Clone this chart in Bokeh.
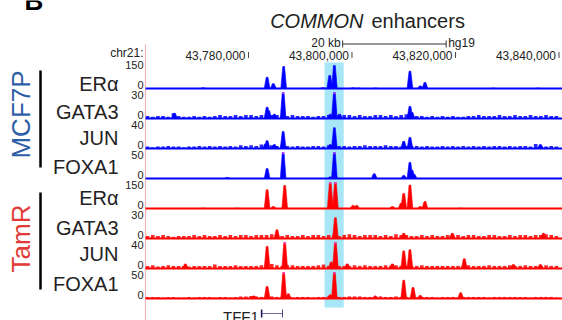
from math import pi
from bokeh.plotting import figure
from bokeh.models import Range1d
from bokeh.core.properties import value
from bokeh.embed import file_html
from bokeh.resources import INLINE

# ---------------- data (chr21, hg19, positions in kb) ----------------
region_kb = [43760.1, 43840.7]
view_kb = [43732.08, 43840.68]
tick_kb = [43780, 43800, 43820, 43840]
tick_labels = ["43,780,000", "43,800,000", "43,820,000", "43,840,000"]
highlight_kb = [43794.7, 43798.4]
scalebar_kb = [43798.2, 43818.2]
scalebar_label = "20 kb"
assembly = "hg19"
chrom_label = "chr21:"
gene_name = "TFF1"
gene_kb = [43782.391, 43786.644]
title_italic = "COMMON"
title_rest = "enhancers"

groups = ["MCF7P", "TamR"]
track_names = ["ERα", "GATA3", "JUN", "FOXA1", "ERα", "GATA3", "JUN", "FOXA1"]
track_max = [150, 30, 40, 50, 150, 30, 40, 50]

era_mcf7_pos = [43771.25, 43783.6, 43784.8, 43786.8, 43794.4, 43795.7, 43796.6, 43800.2, 43801.3, 43804.5, 43811.2, 43813.2, 43814.1, 43827.3, 43836.0]
era_mcf7_val = [4, 65, 28, 127, 5, 75, 133, 4, 3, 3, 100, 15, 35, 3, 3]
gata3_mcf7_pos = [43765.7, 43783.6, 43783.9, 43785.0, 43786.7, 43795.8, 43796.6, 43797.6, 43811.2, 43811.6]
gata3_mcf7_val = [6, 13, 9, 5, 32, 5, 32, 5, 14, 7]
jun_mcf7_pos = [43783.3, 43783.6, 43785.0, 43786.7, 43795.8, 43796.6, 43810.0, 43811.2, 43836.4]
jun_mcf7_val = [7, 12, 6, 26, 6, 32, 11, 17, 6]
foxa1_mcf7_pos = [43775.9, 43783.6, 43786.7, 43795.8, 43796.6, 43804.3, 43810.0, 43811.2, 43811.6, 43812.0]
foxa1_mcf7_val = [2, 19, 55, 3, 55, 9, 6, 31, 16, 8]
era_tamr_pos = [43771.25, 43777.8, 43783.6, 43784.8, 43787.0, 43795.8, 43796.8, 43800.2, 43800.9, 43807.8, 43809.5, 43810.0, 43811.2, 43813.2, 43814.1, 43821.0]
era_tamr_val = [3, 3, 108, 12, 133, 160, 160, 18, 18, 12, 30, 87, 135, 12, 40, 3]
gata3_tamr_pos = [43785.5, 43796.8, 43810.0, 43819.4, 43837.0]
gata3_tamr_val = [10, 24, 6, 6, 6]
jun_tamr_pos = [43767.8, 43783.6, 43787.0, 43796.0, 43796.8, 43799.1, 43807.8, 43810.0, 43811.2, 43821.7, 43831.2, 43836.4]
jun_tamr_val = [7, 34, 45, 10, 45, 7, 7, 27, 29, 15, 6, 6]
foxa1_tamr_pos = [43781.0, 43783.6, 43786.8, 43787.7, 43795.8, 43796.6, 43804.5, 43810.0, 43811.8, 43813.2, 43821.0]
foxa1_tamr_val = [5, 23, 55, 9, 7, 55, 5, 35, 21, 6, 11]

# background signal in 1 kb bins starting at 43760 kb
bg_start_kb = 43760.5
gata3_mcf7_bg = [3,2,3,3,2,6,3,2,2,3, 2,3,2,3,4,3,3,4,3,4, 4,3,4,5,4,4,3,3,4,3, 3,3,2,3,3,4,3,4,4,4,
                 3,4,3,3,4,4,3,4,3,4, 5,4,3,3,2,3,2,3,2,3, 2,2,3,3,4,3,3,3,4,3, 3,4,3,3,4,3,3,4,3,3]
jun_mcf7_bg = [3,2,3,3,4,3,3,2,3,3, 4,3,4,3,4,3,4,3,5,4, 5,4,6,7,5,4,5,4,3,4, 3,3,4,4,3,5,4,4,4,3,
               4,4,5,4,4,4,5,4,4,3, 4,4,4,3,4,3,3,4,3,4, 3,4,3,4,3,4,3,4,4,3, 4,3,4,4,3,7,4,3,4,3]
gata3_tamr_bg = [3,4,3,4,3,2,3,3,3,4, 3,4,3,3,4,3,4,3,4,4, 3,4,4,4,5,4,3,4,3,3, 4,3,4,4,3,4,4,3,4,5,
                 4,3,4,4,4,3,4,3,5,4, 4,3,3,4,3,4,3,3,4,3, 4,3,4,4,3,3,4,4,3,3, 4,3,4,4,3,4,4,5,4,3]
jun_tamr_bg = [4,5,3,4,5,4,4,4,3,4, 4,4,4,6,4,4,4,5,4,4, 4,4,5,6,7,5,4,5,5,4, 4,4,4,5,6,4,4,4,4,4,
               5,4,5,4,4,4,5,4,5,4, 4,4,4,5,4,4,4,4,4,4, 4,4,5,4,4,4,5,4,4,4, 5,4,4,5,4,4,4,5,4,4]
foxa1_tamr_bg = [3,3,3,2,3,3,2,2,3,2, 3,3,3,2,3,3,2,3,4,4, 5,4,3,3,4,3,3,3,2,3, 3,3,2,3,3,4,4,3,3,4,
                 4,4,3,3,3,4,3,3,4,3, 3,3,2,3,3,3,2,3,3,3, 2,3,3,3,3,3,2,3,3,3, 3,3,3,3,2,3,3,3,3,2]

peaks = [(era_mcf7_pos, era_mcf7_val), (gata3_mcf7_pos, gata3_mcf7_val), (jun_mcf7_pos, jun_mcf7_val),
         (foxa1_mcf7_pos, foxa1_mcf7_val), (era_tamr_pos, era_tamr_val), (gata3_tamr_pos, gata3_tamr_val),
         (jun_tamr_pos, jun_tamr_val), (foxa1_tamr_pos, foxa1_tamr_val)]
backgrounds = [None, gata3_mcf7_bg, jun_mcf7_bg, None, None, gata3_tamr_bg, jun_tamr_bg, foxa1_tamr_bg]

# ---------------- layout (screen px) ----------------
W, H = 562, 320
baselines = [88, 118, 148, 178, 208, 238, 268, 298]
track_h = 26
name_y = [83, 111, 137, 166, 197, 227, 253, 283]
colors = ["#0000FF"] * 4 + ["#FF0000"] * 4
group_colors = ["#2D5DA6", "#E23A36"]
FONT = value("Liberation Sans")
TXT = "#222222"

p = figure(width=W, height=H, output_backend="svg", toolbar_location=None,
           x_range=Range1d(*view_kb), y_range=Range1d(H, 0),
           x_axis_type=None, y_axis_type=None, min_border=0,
           outline_line_color=None, background_fill_color="white")
p.grid.visible = False
p.extra_x_ranges = {"px": Range1d(0, W)}

# highlighted enhancer band
p.quad(left=[highlight_kb[0]], right=[highlight_kb[1]], top=[62], bottom=[307],
       fill_color="#A6E6F7", line_color=None)
# region start line
p.segment(x0=[region_kb[0]], x1=[region_kb[0]], y0=[44], y1=[H], line_color="#F7B2B2", line_width=1.2)

for i, M in enumerate(track_max):
    b = baselines[i]
    k = M / track_h
    name = f"t{i}"
    p.extra_y_ranges[name] = Range1d(start=-(H - b) * k, end=b * k)
    c = colors[i]
    bg = backgrounds[i]
    if bg is not None:
        xs = [bg_start_kb + j for j in range(len(bg))]
        p.vbar(x=xs, top=bg, bottom=0, width=0.7, fill_color=c, line_color=None,
               fill_alpha=0.85, y_range_name=name)
    pos, val = peaks[i]
    top = [min(v, M) for v in val]
    pxs, pys = [], []
    for x0, t in zip(pos, top):
        pxs.append([x0 - 0.55, x0 - 0.17, x0 + 0.17, x0 + 0.55])
        pys.append([0, t, t, 0])
    p.patches(xs=pxs, ys=pys, fill_color=c, line_color=c, line_width=0.6, y_range_name=name)
    clip_x = [x0 for x0, v in zip(pos, val) if v > M]
    if clip_x:
        p.vbar(x=clip_x, top=[M] * len(clip_x), bottom=[M - 1.5 * k] * len(clip_x), width=0.34,
               fill_color="#FF33FF", line_color=None, y_range_name=name)
    p.segment(x0=[region_kb[0]], x1=[region_kb[1]], y0=[0], y1=[0], line_color=c, line_width=2,
              y_range_name=name)
    # scale labels
    p.text(x=[143, 143], y=[b - 24, b - 4], text=[str(M), "0"], x_range_name="px",
           text_align="right", text_baseline="middle", text_font=FONT, text_font_size="11px",
           text_color=TXT)
    # track name
    p.text(x=[118], y=[name_y[i]], text=[track_names[i]], x_range_name="px",
           text_align="right", text_baseline="middle", text_font=FONT, text_font_size="20px",
           text_color=TXT)

# group labels and bars
p.segment(x0=[40, 40], x1=[40, 40], y0=[70, 192], y1=[167, 289], x_range_name="px",
          line_color="black", line_width=2.5)
p.text(x=[20, 20], y=[114, 238], text=groups, angle=pi / 2, x_range_name="px",
       text_align="center", text_baseline="middle", text_font=FONT, text_font_size="26px",
       text_color=group_colors)

# coordinate ticks
p.text(x=tick_kb, y=[54.5] * len(tick_kb), text=tick_labels, x_offset=-3, text_align="right",
       text_baseline="middle", text_font=FONT, text_font_size="12px", text_color=TXT)
p.segment(x0=tick_kb, x1=tick_kb, y0=[51.5] * 4, y1=[57.5] * 4, line_color="#444444", line_width=1)
p.text(x=[143], y=[52], text=[chrom_label], x_range_name="px", text_align="right",
       text_baseline="middle", text_font=FONT, text_font_size="12px", text_color=TXT)

# scale bar
p.segment(x0=[scalebar_kb[0]], x1=[scalebar_kb[1]], y0=[43.5], y1=[43.5], line_color="#333333", line_width=1)
p.segment(x0=scalebar_kb, x1=scalebar_kb, y0=[40, 40], y1=[47, 47], line_color="#333333", line_width=1)
p.text(x=[scalebar_kb[0]], y=[42.5], text=[scalebar_label], x_offset=-2, text_align="right",
       text_baseline="middle", text_font=FONT, text_font_size="12px", text_color=TXT)
p.text(x=[scalebar_kb[1]], y=[42.5], text=[assembly], x_offset=2, text_align="left",
       text_baseline="middle", text_font=FONT, text_font_size="12px", text_color=TXT)

# title
p.text(x=[363], y=[20], text=[title_italic], x_range_name="px", text_align="right",
       text_baseline="middle", text_font=FONT, text_font_style="italic",
       text_font_size="20px", text_color=TXT)
p.text(x=[371], y=[20], text=[title_rest], x_range_name="px", text_align="left",
       text_baseline="middle", text_font=FONT, text_font_size="20px", text_color=TXT)

# panel letter (cropped at top, as in the source figure)
p.text(x=[24], y=[0], text=["B"], x_range_name="px", text_align="left", text_baseline="middle",
       text_font=FONT, text_font_style="bold", text_font_size="26px", text_color="black")

# gene model
p.segment(x0=[gene_kb[0]], x1=[gene_kb[1]], y0=[313], y1=[313], line_color="#7070A8", line_width=1)
p.quad(left=[gene_kb[0], gene_kb[1] - 0.15], right=[gene_kb[0] + 0.3, gene_kb[1]],
       top=[309, 309], bottom=[317, 317], fill_color="#1A1A60", line_color=None)
p.text(x=[gene_kb[0]], y=[316], text=[gene_name], x_offset=-2, text_align="right",
       text_baseline="middle", text_font=FONT, text_font_size="15px", text_color=TXT)

open("out.html", "w").write(file_html(p, INLINE))
